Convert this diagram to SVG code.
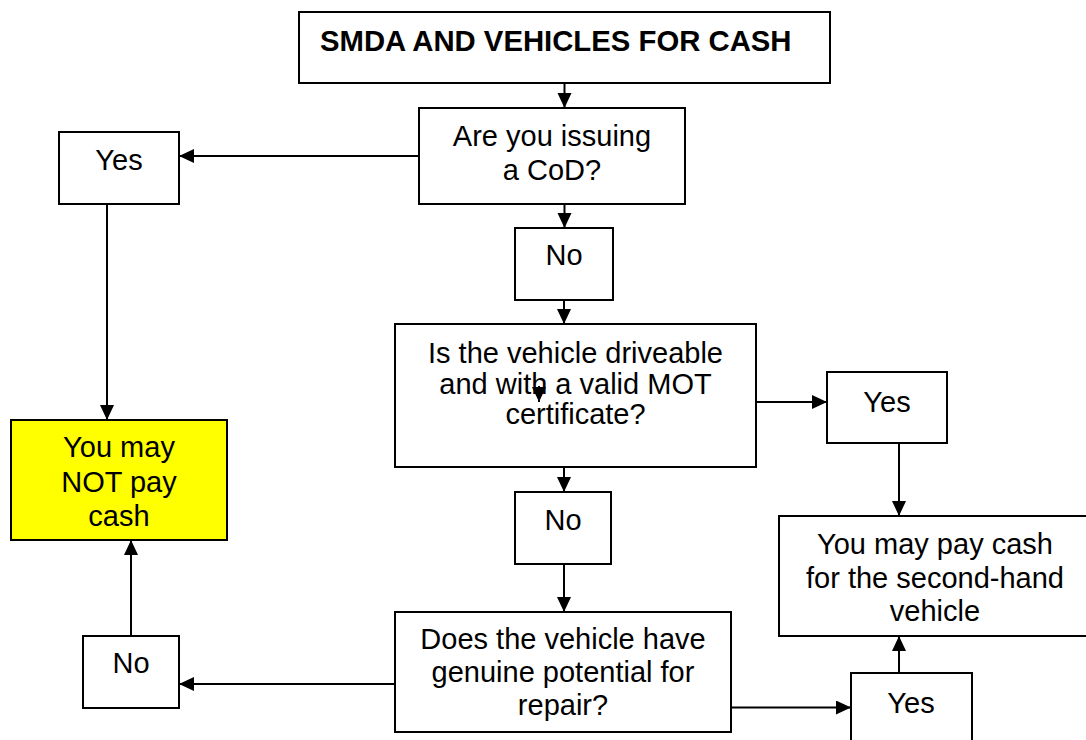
<svg xmlns="http://www.w3.org/2000/svg" width="1086" height="740" viewBox="0 0 1086 740">
<style>
.box{fill:#fff;stroke:#000;stroke-width:2}
.yellow{fill:#ffff00;stroke:#000;stroke-width:2}
.t{font-family:"Liberation Sans",Arial,sans-serif;font-size:29px;fill:#000;text-anchor:middle}
.title{font-family:"Liberation Sans",Arial,sans-serif;font-size:29.3px;font-weight:bold;fill:#000}
.c{stroke:#000;stroke-width:2;fill:none;marker-end:url(#ah)}
</style>
<defs>
<marker id="ah" markerUnits="userSpaceOnUse" markerWidth="16" markerHeight="15" refX="15" refY="7" orient="auto">
<path d="M0,0 L15,7 L0,14 z" fill="#000"/>
</marker>
</defs>
<rect width="1086" height="740" fill="#fff"/>
<g id="title">
<rect class="box" x="299" y="12" width="531" height="71"/>
<text class="title" x="320" y="51">SMDA AND VEHICLES FOR CASH</text>
</g>
<g id="q1">
<rect class="box" x="419" y="108" width="266" height="96"/>
<text class="t" x="552" y="146">Are you issuing</text>
<text class="t" x="552" y="180">a CoD?</text>
</g>
<g id="yes1">
<rect class="box" x="59" y="132" width="120" height="72"/>
<text class="t" x="119" y="170">Yes</text>
</g>
<g id="no1">
<rect class="box" x="515" y="228" width="98" height="72"/>
<text class="t" x="564" y="265">No</text>
</g>
<g id="q2">
<rect class="box" x="395" y="324" width="361" height="143"/>
<text class="t" x="575.5" y="363">Is the vehicle driveable</text>
<text class="t" x="575.5" y="394">and with a valid MOT</text>
<text class="t" x="575.5" y="424">certificate?</text>
</g>
<g id="yes2">
<rect class="box" x="827" y="372" width="120" height="71"/>
<text class="t" x="887" y="412">Yes</text>
</g>
<g id="notcash">
<rect class="yellow" x="11" y="420" width="216" height="120"/>
<text class="t" x="119" y="457">You may</text>
<text class="t" x="119" y="492">NOT pay</text>
<text class="t" x="119" y="526">cash</text>
</g>
<g id="no2">
<rect class="box" x="515" y="492" width="96" height="72"/>
<text class="t" x="563" y="530">No</text>
</g>
<g id="paycash">
<rect class="box" x="779" y="516" width="312" height="120"/>
<text class="t" x="935" y="554">You may pay cash</text>
<text class="t" x="935" y="588">for the second-hand</text>
<text class="t" x="935" y="621">vehicle</text>
</g>
<g id="q3">
<rect class="box" x="395" y="612" width="336" height="120"/>
<text class="t" x="563" y="649">Does the vehicle have</text>
<text class="t" x="563" y="682">genuine potential for</text>
<text class="t" x="563" y="715">repair?</text>
</g>
<g id="no3">
<rect class="box" x="83" y="636" width="96" height="72"/>
<text class="t" x="131" y="673">No</text>
</g>
<g id="yes3">
<rect class="box" x="851" y="673" width="121" height="80"/>
<text class="t" x="911" y="713">Yes</text>
</g>
<g id="connectors">
<line class="c" x1="564.5" y1="83" x2="564.5" y2="108"/>
<line class="c" x1="564.5" y1="204" x2="564.5" y2="228"/>
<line class="c" x1="419" y1="156" x2="179" y2="156"/>
<line class="c" x1="107" y1="204" x2="107" y2="420"/>
<line class="c" x1="564" y1="300" x2="564" y2="324"/>
<line class="c" x1="756" y1="402" x2="827" y2="402"/>
<line class="c" x1="564" y1="467" x2="564" y2="492"/>
<line class="c" x1="899" y1="443" x2="899" y2="516"/>
<line class="c" x1="564" y1="564" x2="564" y2="612"/>
<line class="c" x1="395" y1="684" x2="179" y2="684"/>
<line class="c" x1="131" y1="636" x2="131" y2="540"/>
<line class="c" x1="731" y1="707.5" x2="851" y2="707.5"/>
<line class="c" x1="899" y1="673" x2="899" y2="636"/>
<line class="c" x1="539" y1="386" x2="539" y2="402"/>
</g>
</svg>
